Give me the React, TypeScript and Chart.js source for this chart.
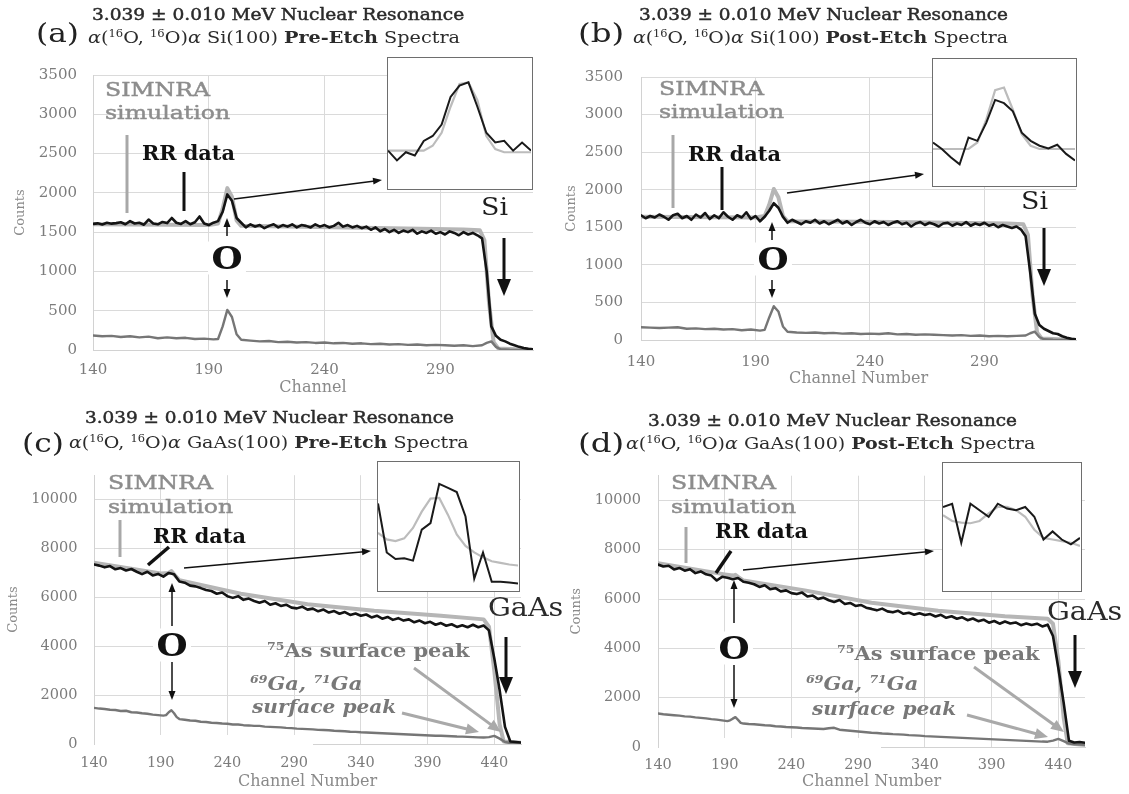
import React, { useEffect, useRef } from 'react';
import { Chart, registerables } from 'chart.js';
Chart.register(...registerables);

const FONT = "'DejaVu Serif', serif";

// ---------- tick labels ----------
const SI_X_TICKS = [140, 190, 240, 290];
const SI_Y_TICKS = [0, 500, 1000, 1500, 2000, 2500, 3000, 3500];
const GAAS_X_TICKS = [140, 190, 240, 290, 340, 390, 440];
const GAAS_Y_TICKS = [0, 2000, 4000, 6000, 8000, 10000];

// ---------- Si(100) spectra (panels a, b) ----------
const SI_RR_CH = [140,142,144,146,148,150,152,154,156,158,160,162,164,166,168,170,172,174,176,178,180,182,184,186,188,190,192,194,196,198,200,202,204,206,208,210,212,214,216,218,220,222,224,226,228,230,232,234,236,238,240,242,244,246,248,250,252,254,256,258,260,262,264,266,268,270,272,274,276,278,280,282,284,286,288,290,292,294,296,298,300,302,304,306,308,310,312,314,316,318,320,322,324,326,328,330];
const A_RR = [1605,1612,1598,1620,1608,1615,1625,1600,1640,1610,
  1620,1595,1660,1610,1600,1630,1615,1680,1620,1605,
  1640,1600,1625,1700,1610,1590,1620,1640,1760,1980,
  1900,1680,1620,1560,1600,1570,1590,1550,1580,1600,
  1560,1590,1570,1600,1560,1590,1580,1560,1600,1570,
  1590,1560,1580,1620,1570,1590,1560,1580,1550,1570,
  1530,1560,1510,1540,1500,1530,1490,1520,1500,1530,
  1480,1510,1490,1520,1480,1500,1470,1510,1490,1460,
  1500,1470,1490,1460,1420,1000,300,180,130,110,
  80,60,40,25,15,10];
const B_RR = [1660,1620,1650,1630,1670,1640,1600,1660,1680,1620,
  1650,1600,1670,1630,1690,1610,1660,1620,1700,1640,
  1600,1660,1630,1700,1610,1650,1580,1640,1720,1820,
  1760,1640,1560,1600,1570,1540,1580,1560,1600,1550,
  1580,1540,1570,1600,1550,1580,1530,1570,1600,1560,
  1540,1580,1550,1570,1530,1560,1580,1540,1560,1510,
  1550,1570,1530,1560,1540,1510,1550,1560,1520,1550,
  1530,1570,1520,1550,1530,1560,1520,1540,1500,1530,
  1510,1490,1510,1470,1380,900,350,200,150,120,
  90,80,50,30,15,10];
const SI_SIM_CH = [140,190,194,196,198,200,202,204,250,300,307,309,311,313,315,330];
const A_SIM = [1600,1590,1610,1800,2060,1950,1650,1580,1560,1535,1525,1400,600,100,20,0];
const B_SIM = [1640,1630,1650,1800,2010,1900,1650,1580,1570,1550,1540,1400,600,100,20,0];
const SI_LOW_CH = [140,144,148,152,156,160,164,168,172,176,180,184,188,192,194,196,198,200,202,204,208,212,216,220,224,228,232,236,240,244,248,252,256,260,264,268,272,276,280,284,288,292,296,300,304,308,310,312,314,316,320,330];
const A_LOW = [185,175,180,165,175,160,170,150,160,150,155,140,145,135,
  140,300,510,420,200,130,
  120,110,115,100,105,95,100,90,95,85,90,80,85,75,80,70,75,65,70,60,65,60,55,60,50,60,
  90,110,40,10,5,0];
const B_LOW = [170,165,160,165,170,150,155,145,150,140,145,130,140,125,
  135,300,450,380,180,110,
  100,95,100,90,95,85,90,80,85,80,90,75,80,70,75,70,65,60,65,55,60,50,55,50,55,60,
  90,110,40,10,5,0];

// ---------- GaAs(100) spectra (panels c, d) ----------
const GAAS_RR_CH = [140,144,148,152,156,160,164,168,172,176,180,184,188,192,196,200,204,208,212,216,220,224,228,232,236,240,244,248,252,256,260,264,268,272,276,280,284,288,292,296,300,304,308,312,316,320,324,328,332,336,340,344,348,352,356,360,364,368,372,376,380,384,388,392,396,400,404,408,412,416,420,424,428,432,436,440,444,448,452,456,460];
const C_RR = [7350,7300,7230,7280,7150,7200,7100,7160,7050,6950,
  7050,6900,6960,6850,7000,6950,6650,6600,6480,6450,
  6380,6300,6260,6150,6200,6050,5980,6050,5900,5950,
  5850,5780,5850,5700,5760,5650,5700,5580,5550,5620,
  5500,5540,5430,5500,5380,5440,5330,5400,5280,5340,
  5250,5300,5180,5250,5130,5200,5080,5150,5050,5100,
  4980,5050,4940,5000,4880,4950,4840,4900,4790,4860,
  4780,4880,4780,4850,4650,3500,2200,700,100,80,
  60];
const D_RR = [7400,7320,7350,7200,7260,7150,7210,7050,7120,7000,
  6950,6750,6900,6860,6800,6850,6700,6660,6600,6490,
  6560,6400,6440,6310,6350,6240,6200,6260,6100,6140,
  6000,6060,5950,5880,5960,5800,5840,5720,5760,5650,
  5600,5540,5610,5500,5460,5520,5400,5440,5360,5420,
  5350,5390,5290,5360,5240,5300,5200,5260,5140,5210,
  5100,5160,5040,5110,5000,5090,5010,5050,4940,5010,
  4950,5000,4890,4960,4500,3200,1800,250,180,200,
  170];
const GAAS_SIM_CH = [140,190,196,198,200,204,250,300,350,400,432,436,440,444,447,460];
const C_SIM = [7420,6980,7000,7080,6950,6700,6150,5720,5450,5250,5100,4800,3000,800,100,50];
const D_SIM = [7450,7000,6950,6980,6900,6750,6350,5850,5520,5300,5200,5000,3500,1200,150,80];
const GAAS_LOW_CH = [140,144,148,152,156,160,164,168,172,176,180,184,188,192,194,196,198,200,202,204,208,212,216,220,224,228,232,236,240,244,248,252,256,260,264,268,272,276,280,284,288,292,296,300,304,308,312,316,320,324,328,332,336,340,344,348,352,356,360,364,368,372,376,380,384,388,392,396,400,404,408,412,416,420,424,428,432,436,440,444,448,452,456,460];
const C_LOW = [1480,1450,1430,1400,1390,1350,1360,1300,1290,1260,1240,1200,1180,1160,
  1180,1300,1380,1260,1100,1020,
  990,960,950,910,900,870,860,840,830,800,
  800,770,760,740,740,710,700,690,680,660,
  650,630,620,610,600,580,570,560,540,530,
  520,500,495,480,470,460,450,440,430,420,
  410,400,390,380,370,360,350,340,335,325,
  315,305,300,290,280,270,265,280,330,220,
  80,40,30,20];
const D_LOW = [1360,1330,1310,1290,1270,1240,1230,1200,1180,1160,1130,1110,1080,1050,
  1080,1150,1210,1100,980,950,
  930,920,900,880,870,840,830,810,800,790,
  770,760,750,740,730,760,780,700,680,660,
  640,620,600,580,570,550,540,520,510,500,
  480,470,460,440,430,420,410,400,390,380,
  370,360,350,340,330,320,310,300,290,280,
  270,260,250,240,230,220,215,260,330,240,
  140,110,100,90];

// ---------- zoom insets (O resonance region) ----------
const IN_A_CH = [190,191,192,193,194,195,196,197,198,199,200,201,202,203,204,205,206];
const IN_A_RR = [115,85,110,100,145,160,195,280,315,325,250,170,140,145,115,140,115];
const IN_A_SIM = [115,115,115,115,115,130,170,250,320,325,270,160,120,110,110,110,110];
const IN_B_CH = [190,191,192,193,194,195,196,197,198,199,200,201,202,203,204,205,206];
const IN_B_RR = [130,110,85,63,145,135,190,260,250,225,160,135,120,112,123,95,75];
const IN_B_SIM = [110,110,110,110,110,130,200,290,298,230,155,120,110,110,110,110,110];
const IN_C_CH = [190,191,192,193,194,195,196,197,198,199,200,201,202,203,204,205,206];
const IN_C_RR = [265,115,95,97,90,185,205,325,313,300,225,35,115,25,25,23,20];
const IN_C_SIM = [175,155,150,158,190,240,280,282,230,170,135,115,100,88,83,78,75];
const IN_D_CH = [190,191,192,193,194,195,196,197,198,199,200,201,202,203,204,205];
const IN_D_RR = [255,265,145,265,245,225,265,250,245,255,225,155,180,155,140,160];
const IN_D_SIM = [230,212,207,205,212,235,255,255,245,225,185,160,155,150,145,135];

const zip = (xs: number[], ys: number[]) => xs.map((x, i) => ({ x, y: ys[i] }));

type MainSpec = {
  l: number; t: number; w: number; h: number;
  yW: number; xH: number; padTop: number; padRight: number;
  xMax: number; yMax: number; xTicks: number[]; yTicks: number[];
  tick: number; xPad: number; yPad: number; xTitle: string; xTitlePadB: number; yTitlePadT: number;
  rrCh: number[]; rr: number[]; simCh: number[]; sim: number[]; lowCh: number[]; low: number[];
};

function mainConfig(p: MainSpec): any {
  const tickFont = { family: FONT, size: p.tick };
  return {
    type: 'line',
    data: {
      datasets: [
        { data: zip(p.rrCh, p.rr), borderColor: '#141414', borderWidth: 2.6 },
        { data: zip(p.lowCh, p.low), borderColor: '#767676', borderWidth: 2.4 },
        { data: zip(p.simCh, p.sim), borderColor: '#b6b6b6', borderWidth: 4 },
      ],
    },
    options: {
      animation: false,
      responsive: false,
      devicePixelRatio: 1,
      layout: { padding: { top: p.padTop, right: p.padRight, left: 0, bottom: 0 } },
      elements: { point: { radius: 0 }, line: { tension: 0, borderJoinStyle: 'round', borderCapStyle: 'round' } },
      plugins: { legend: { display: false }, tooltip: { enabled: false } },
      scales: {
        x: {
          type: 'linear', min: 140, max: p.xMax,
          afterBuildTicks: (s: any) => { s.ticks = p.xTicks.map((v) => ({ value: v })); },
          afterFit: (s: any) => { s.height = p.xH; },
          grid: { color: '#dadada', drawTicks: false },
          border: { color: '#d2d2d2' },
          ticks: { font: tickFont, color: '#7c7c7c', padding: p.xPad, autoSkip: false, maxRotation: 0, callback: (v: any) => String(v) },
          title: { display: true, text: p.xTitle, color: '#8a8a8a', font: { family: FONT, size: 16 }, padding: { top: 0, bottom: p.xTitlePadB } },
        },
        y: {
          type: 'linear', min: 0, max: p.yMax,
          afterBuildTicks: (s: any) => { s.ticks = p.yTicks.map((v) => ({ value: v })); },
          afterFit: (s: any) => { s.width = p.yW; },
          grid: { color: '#dadada', drawTicks: false },
          border: { color: '#d2d2d2' },
          ticks: { font: tickFont, color: '#7c7c7c', padding: p.yPad, callback: (v: any) => String(v) },
          title: { display: true, text: 'Counts', color: '#8a8a8a', font: { family: FONT, size: 13 }, padding: { top: p.yTitlePadT, bottom: 0 } },
        },
      },
    },
  };
}

type InsetSpec = { l: number; t: number; w: number; h: number; ch: number[]; rr: number[]; sim: number[]; yMax: number };

function insetConfig(p: InsetSpec): any {
  return {
    type: 'line',
    data: {
      datasets: [
        { data: zip(p.ch, p.rr), borderColor: '#1a1a1a', borderWidth: 2 },
        { data: zip(p.ch, p.sim), borderColor: '#bcbcbc', borderWidth: 2.2 },
      ],
    },
    options: {
      animation: false, responsive: false, devicePixelRatio: 1,
      layout: { padding: 0 },
      elements: { point: { radius: 0 }, line: { tension: 0 } },
      plugins: { legend: { display: false }, tooltip: { enabled: false } },
      scales: {
        x: { type: 'linear', display: false, min: p.ch[0], max: p.ch[p.ch.length - 1] },
        y: { type: 'linear', display: false, min: 0, max: p.yMax },
      },
    },
  };
}

function ChartBox({ l, t, w, h, config }: { l: number; t: number; w: number; h: number; config: any }) {
  const ref = useRef<HTMLCanvasElement>(null);
  useEffect(() => {
    const chart = new Chart(ref.current as HTMLCanvasElement, config);
    return () => chart.destroy();
  }, []);
  return <canvas ref={ref} width={w} height={h} style={{ position: 'absolute', left: l, top: t, width: w, height: h }} />;
}

function Inset(p: InsetSpec) {
  const b = 1.5;
  return (
    <div style={{ position: 'absolute', left: p.l, top: p.t, width: p.w, height: p.h, border: `${b}px solid #6e6e6e`, boxSizing: 'border-box', background: '#fff' }}>
      <ChartBox l={0} t={0} w={p.w - 2 * b} h={p.h - 2 * b} config={insetConfig(p)} />
    </div>
  );
}

function T(props: { x: number; y: number; size: number; s?: number; w?: number; c?: string; it?: boolean; center?: boolean; bg?: boolean; st?: number; children: React.ReactNode }) {
  const { x, y, size, s = 1, w = 400, c = '#111', it = false, center = false, bg = false, st = 0, children } = props;
  return (
    <div style={{
      position: 'absolute', left: x, top: y,
      transform: `translate(${center ? '-50%' : '0'}, -50%) scaleX(${s})`,
      transformOrigin: center ? 'center center' : 'left center',
      fontFamily: FONT, fontSize: size, fontWeight: w, fontStyle: it ? 'italic' : 'normal',
      color: c, lineHeight: 1, whiteSpace: 'nowrap', background: bg ? '#fff' : 'transparent', padding: bg ? '1px 3px' : 0,
      WebkitTextStroke: st ? `${st}px ${c}` : undefined,
    } as any}>{children}</div>
  );
}

const Sup = ({ children }: { children: React.ReactNode }) => (
  <span style={{ fontSize: '0.6em', position: 'relative', top: '-0.62em' }}>{children}</span>
);

function Arrow({ x1, y1, x2, y2, w = 1.5, c = '#111', hl = 9, hw = 7 }: { x1: number; y1: number; x2: number; y2: number; w?: number; c?: string; hl?: number; hw?: number }) {
  const dx = x2 - x1, dy = y2 - y1;
  const len = Math.hypot(dx, dy);
  const ux = dx / len, uy = dy / len;
  const px = -uy, py = ux;
  const bx = x2 - ux * hl, by = y2 - uy * hl;
  const pts = `${x2},${y2} ${bx + px * hw / 2},${by + py * hw / 2} ${bx - px * hw / 2},${by - py * hw / 2}`;
  return (
    <g>
      <line x1={x1} y1={y1} x2={x2 - ux * hl * 0.8} y2={y2 - uy * hl * 0.8} stroke={c} strokeWidth={w} />
      <polygon points={pts} fill={c} />
    </g>
  );
}

const Seg = ({ x1, y1, x2, y2, w = 3, c = '#111' }: { x1: number; y1: number; x2: number; y2: number; w?: number; c?: string }) => (
  <line x1={x1} y1={y1} x2={x2} y2={y2} stroke={c} strokeWidth={w} />
);

const MAIN: MainSpec[] = [
  { l: 0, t: 50, w: 540, h: 350, yW: 93, xH: 50, padTop: 8, padRight: 7, xMax: 330, yMax: 3500, xTicks: SI_X_TICKS, yTicks: SI_Y_TICKS,
    tick: 15, xPad: 11, yPad: 16, xTitle: 'Channel', xTitlePadB: 2.6, yTitlePadT: 12.8,
    rrCh: SI_RR_CH, rr: A_RR, simCh: SI_SIM_CH, sim: A_SIM, lowCh: SI_LOW_CH, low: A_LOW },
  { l: 560, t: 50, w: 522, h: 345, yW: 81, xH: 55, padTop: 7, padRight: 6, xMax: 330, yMax: 3500, xTicks: SI_X_TICKS, yTicks: SI_Y_TICKS,
    tick: 15, xPad: 13, yPad: 18, xTitle: 'Channel Number', xTitlePadB: 6.6, yTitlePadT: 3.8,
    rrCh: SI_RR_CH, rr: B_RR, simCh: SI_SIM_CH, sim: B_SIM, lowCh: SI_LOW_CH, low: B_LOW },
  { l: 0, t: 450, w: 530, h: 344, yW: 94, xH: 50, padTop: 12, padRight: 9, xMax: 460, yMax: 11000, xTicks: GAAS_X_TICKS, yTicks: GAAS_Y_TICKS,
    tick: 14.5, xPad: 11, yPad: 16.5, xTitle: 'Channel Number', xTitlePadB: 2.6, yTitlePadT: 6.3,
    rrCh: GAAS_RR_CH, rr: C_RR, simCh: GAAS_SIM_CH, sim: C_SIM, lowCh: GAAS_LOW_CH, low: C_LOW },
  { l: 565, t: 450, w: 525, h: 344, yW: 93, xH: 47, padTop: 15, padRight: 5, xMax: 460, yMax: 11000, xTicks: GAAS_X_TICKS, yTicks: GAAS_Y_TICKS,
    tick: 14.5, xPad: 10, yPad: 17, xTitle: 'Channel Number', xTitlePadB: 2.6, yTitlePadT: 3.8,
    rrCh: GAAS_RR_CH, rr: D_RR, simCh: GAAS_SIM_CH, sim: D_SIM, lowCh: GAAS_LOW_CH, low: D_LOW },
];

const INSETS: InsetSpec[] = [
  { l: 387, t: 57, w: 146, h: 133, ch: IN_A_CH, rr: IN_A_RR, sim: IN_A_SIM, yMax: 400 },
  { l: 932, t: 58, w: 145, h: 129, ch: IN_B_CH, rr: IN_B_RR, sim: IN_B_SIM, yMax: 385 },
  { l: 377, t: 461, w: 143, h: 131, ch: IN_C_CH, rr: IN_C_RR, sim: IN_C_SIM, yMax: 392 },
  { l: 942, t: 462, w: 140, h: 130, ch: IN_D_CH, rr: IN_D_RR, sim: IN_D_SIM, yMax: 390 },
];

const TITLE_C = '#2b2b2b';
const SIM_C = '#8d8d8d';
const SURF_C = '#787878';
const ARROW_GRAY = '#a9a9a9';

function Title1({ x, y, s }: { x: number; y: number; s: number }) {
  return <T x={x} y={y} size={16} s={s} st={0.45} c={TITLE_C}>3.039 ± 0.010 MeV Nuclear Resonance</T>;
}

function Title2({ x, y, sample, etch, s }: { x: number; y: number; sample: string; etch: string; s: number }) {
  return (
    <T x={x} y={y} size={17} s={s} c={TITLE_C}>
      <i>α</i>(<Sup>16</Sup>O, <Sup>16</Sup>O)<i>α</i> {sample}(100) <b>{etch}</b> Spectra
    </T>
  );
}

function Simnra({ x, y1, y2 }: { x: number; y1: number; y2: number }) {
  return (
    <>
      <T x={x} y={y1} size={19} s={1.24} st={0.45} c={SIM_C}>SIMNRA</T>
      <T x={x} y={y2} size={19} s={1.24} st={0.45} c={SIM_C}>simulation</T>
    </>
  );
}

export default function App() {
  return (
    <div style={{ position: 'absolute', left: 0, top: 0, width: 1129, height: 794, background: '#fff', overflow: 'hidden' }}>
      {MAIN.map((p, i) => (
        <ChartBox key={i} l={p.l} t={p.t} w={p.w} h={p.h} config={mainConfig(p)} />
      ))}
      {/* white patches where the original figure hides the baseline */}
      <div style={{ position: 'absolute', left: 95, top: 735, width: 218, height: 12, background: '#fff' }} />
      <div style={{ position: 'absolute', left: 659, top: 738, width: 222, height: 12, background: '#fff' }} />
      {INSETS.map((p, i) => <Inset key={i} {...p} />)}

      <svg width={1129} height={794} style={{ position: 'absolute', left: 0, top: 0 }}>
        {/* (a) */}
        <Seg x1={127} y1={135} x2={127} y2={213} c="#a8a8a8" />
        <Seg x1={184} y1={172} x2={184} y2={211} />
        <Arrow x1={234} y1={199} x2={382} y2={180} />
        <Arrow x1={227} y1={236} x2={227} y2={218} />
        <Arrow x1={227} y1={280} x2={227} y2={298} />
        <Arrow x1={504} y1={238} x2={504} y2={296} w={3} hl={17} hw={14} />
        {/* (b) */}
        <Seg x1={673} y1={135} x2={673} y2={208} c="#a8a8a8" />
        <Seg x1={722} y1={167} x2={722} y2={210} />
        <Arrow x1={787} y1={193} x2={924} y2={174} />
        <Arrow x1={772} y1={240} x2={772} y2={222} />
        <Arrow x1={772} y1={280} x2={772} y2={298} />
        <Arrow x1={1044} y1={228} x2={1044} y2={286} w={3} hl={17} hw={14} />
        {/* (c) */}
        <Seg x1={120} y1={520} x2={120} y2={557} c="#a8a8a8" />
        <Seg x1={148} y1={565} x2={169} y2={547} w={3.5} />
        <Arrow x1={184} y1={568} x2={371} y2={551} />
        <Arrow x1={172} y1={626} x2={172} y2={583} />
        <Arrow x1={172} y1={662} x2={172} y2={700} />
        <Arrow x1={506} y1={637} x2={506} y2={694} w={3} hl={17} hw={14} />
        <Arrow x1={414} y1={668} x2={501} y2={732} w={3} c={ARROW_GRAY} hl={13} hw={11} />
        <Arrow x1={402} y1={713} x2={479} y2={732} w={3} c={ARROW_GRAY} hl={13} hw={11} />
        {/* (d) */}
        <Seg x1={686} y1={527} x2={686} y2={563} c="#a8a8a8" />
        <Seg x1={716} y1={573} x2={731} y2={551} w={3.5} />
        <Arrow x1={743} y1={570} x2={934} y2={551} />
        <Arrow x1={734} y1={623} x2={734} y2={580} />
        <Arrow x1={734} y1={665} x2={734} y2={708} />
        <Arrow x1={1075} y1={635} x2={1075} y2={688} w={3} hl={17} hw={14} />
        <Arrow x1={974} y1={667} x2={1064} y2={732} w={3} c={ARROW_GRAY} hl={13} hw={11} />
        <Arrow x1={967} y1={715} x2={1048} y2={737} w={3} c={ARROW_GRAY} hl={13} hw={11} />
      </svg>

      {/* ---------- (a) ---------- */}
      <T x={36} y={33} size={26} s={1.2} c="#222">(a)</T>
      <Title1 x={92} y={15} s={1.16} />
      <Title2 x={88} y={37} sample="Si" etch="Pre-Etch" s={1.13} />
      <Simnra x={105} y1={89} y2={112} />
      <T x={142} y={153} size={20} s={1.04} w={700}>RR data</T>
      <T x={227} y={258} size={31} s={1.15} w={700} center bg>O</T>
      <T x={481} y={207} size={24} s={1.12} c="#1e1e1e">Si</T>

      {/* ---------- (b) ---------- */}
      <T x={578} y={33} size={26} s={1.25} c="#222">(b)</T>
      <Title1 x={639} y={15} s={1.15} />
      <Title2 x={633} y={37} sample="Si" etch="Post-Etch" s={1.11} />
      <Simnra x={659} y1={88} y2={111} />
      <T x={688} y={154} size={20} s={1.04} w={700}>RR data</T>
      <T x={773} y={259} size={31} s={1.15} w={700} center bg>O</T>
      <T x={1021} y={201} size={24} s={1.12} c="#1e1e1e">Si</T>

      {/* ---------- (c) ---------- */}
      <Title1 x={85} y={418} s={1.15} />
      <T x={22} y={443} size={26} s={1.2} c="#222">(c)</T>
      <Title2 x={69} y={442} sample="GaAs" etch="Pre-Etch" s={1.12} />
      <Simnra x={108} y1={482} y2={506} />
      <T x={153} y={536} size={20} s={1.04} w={700}>RR data</T>
      <T x={172} y={645} size={31} s={1.15} w={700} center bg>O</T>
      <T x={488} y={607} size={26} s={1.1} c="#2a2a2a">GaAs</T>
      <T x={267} y={650} size={19} s={1.1} w={700} c={SURF_C}><Sup>75</Sup>As surface peak</T>
      <T x={250} y={683} size={19} s={1.1} w={700} it c={SURF_C}><Sup>69</Sup>Ga, <Sup>71</Sup>Ga</T>
      <T x={252} y={706} size={19} s={1.06} w={700} it c={SURF_C}>surface peak</T>

      {/* ---------- (d) ---------- */}
      <Title1 x={648} y={421} s={1.15} />
      <T x={578} y={443} size={26} s={1.25} c="#222">(d)</T>
      <Title2 x={626} y={443} sample="GaAs" etch="Post-Etch" s={1.12} />
      <Simnra x={671} y1={482} y2={506} />
      <T x={715} y={531} size={20} s={1.04} w={700}>RR data</T>
      <T x={734} y={648} size={31} s={1.15} w={700} center bg>O</T>
      <T x={1047} y={611} size={26} s={1.1} c="#2a2a2a">GaAs</T>
      <T x={837} y={653} size={19} s={1.1} w={700} c={SURF_C}><Sup>75</Sup>As surface peak</T>
      <T x={806} y={683} size={19} s={1.1} w={700} it c={SURF_C}><Sup>69</Sup>Ga, <Sup>71</Sup>Ga</T>
      <T x={812} y={708} size={19} s={1.06} w={700} it c={SURF_C}>surface peak</T>
    </div>
  );
}
